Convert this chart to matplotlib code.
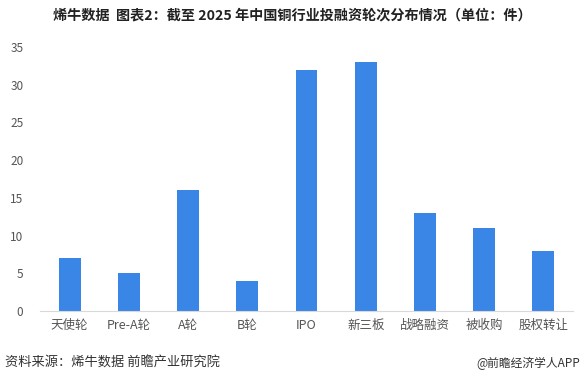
import matplotlib
matplotlib.use("Agg")
import matplotlib.pyplot as plt

plt.rcParams['font.family'] = ['Noto Sans CJK SC', 'DejaVu Sans']

categories = ["天使轮", "Pre-A轮", "A轮", "B轮", "IPO", "新三板", "战略融资", "被收购", "股权转让"]
values = [7, 5, 16, 4, 32, 33, 13, 11, 8]
yticks = [0, 5, 10, 15, 20, 25, 30, 35]

title = "烯牛数据  图表2：截至 2025 年中国铜行业投融资轮次分布情况（单位：件）"
source = "资料来源：烯牛数据 前瞻产业研究院"
credit = "@前瞻经济学人APP"

fig = plt.figure(figsize=(5.84, 3.75), dpi=100)
ax = fig.add_axes([40/584, 64/375, 533/584, (311-47)/375])

x = list(range(len(categories)))
ax.bar(x, values, width=0.37, color="#3a86e6")
ax.set_xlim(-0.5, len(categories) - 0.5)
ax.set_ylim(0, 35)
ax.set_yticks(yticks)
ax.set_yticklabels([str(t) for t in yticks], fontsize=8.5, color="#555555")
ax.set_xticks(x)
ax.set_xticklabels(categories, fontsize=9, color="#555555")
ax.tick_params(axis='both', length=0)
ax.tick_params(axis='y', pad=12)
ax.tick_params(axis='x', pad=6)
for s in ["top", "right", "left"]:
    ax.spines[s].set_visible(False)
ax.spines["bottom"].set_color("#d9d9d9")
ax.spines["bottom"].set_linewidth(0.8)

fig.text(0.5, 1 - 15/375, title, ha="center", va="center", fontsize=10.2, fontweight="bold", color="#222222")
fig.text(5/584, 1 - 363/375, source, ha="left", va="center", fontsize=9.5, color="#333333")
fig.text(580/584, 1 - 363/375, credit, ha="right", va="center", fontsize=8.5, color="#333333")

fig.savefig("out.png", dpi=100)
